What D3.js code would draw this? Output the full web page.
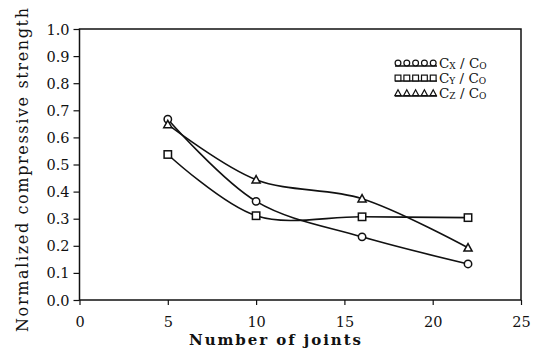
<!doctype html>
<html>
<head>
<style>
body { margin: 0; background: #fff; }
</style>
<script src="https://cdnjs.cloudflare.com/ajax/libs/d3/7.8.5/d3.min.js"></script>
</head>
<body>
<script>
var width = 537, height = 361;

// data
var joints = [5, 10, 16, 22];
var cx = [0.667, 0.364, 0.233, 0.133];
var cy = [0.537, 0.311, 0.307, 0.304];
var cz = [0.648, 0.444, 0.374, 0.193];
var xTicks = [0, 5, 10, 15, 20, 25];
var yTicks = [0, 0.1, 0.2, 0.3, 0.4, 0.5, 0.6, 0.7, 0.8, 0.9, 1.0];

var serif = "DejaVu Serif";
var ink = "#111";

var svg = d3.select("body").append("svg")
  .attr("width", width).attr("height", height);

var x = d3.scaleLinear().domain([0, 25]).range([79.5, 521]);
var y = d3.scaleLinear().domain([0, 1]).range([300, 29]);

// frame
svg.append("rect")
  .attr("x", x(0)).attr("y", y(1))
  .attr("width", x(25) - x(0)).attr("height", y(0) - y(1))
  .attr("fill", "none").attr("stroke", ink).attr("stroke-width", 1.5);

var xAxis = svg.append("g").attr("transform", "translate(0," + y(0) + ")")
  .call(d3.axisBottom(x).tickValues(xTicks).tickSize(5).tickFormat(d3.format("d")));
var yAxis = svg.append("g").attr("transform", "translate(" + x(0) + ",0)")
  .call(d3.axisLeft(y).tickValues(yTicks).tickSize(6).tickFormat(d3.format(".1f")));

[xAxis, yAxis].forEach(function(g) {
  g.select(".domain").remove();
  g.selectAll("line").attr("stroke", ink).attr("stroke-width", 1.2);
  g.selectAll("text")
    .attr("font-family", serif).attr("font-size", 14.5).attr("fill", ink);
});
xAxis.selectAll("text").attr("y", 27).attr("dy", 0);
yAxis.selectAll("text").attr("x", -10).attr("dy", "0.35em");

svg.append("text")
  .attr("x", 189).attr("y", 345)
  .attr("font-family", serif).attr("font-size", 15).attr("font-weight", 600)
  .attr("textLength", 172).attr("lengthAdjust", "spacing")
  .attr("fill", ink)
  .text("Number of joints");

svg.append("text")
  .attr("transform", "translate(28,332) rotate(-90)")
  .attr("font-family", serif).attr("font-size", 16)
  .attr("textLength", 324).attr("lengthAdjust", "spacing")
  .attr("fill", ink)
  .text("Normalized compressive strength");

var line = d3.line()
  .x(function(d) { return x(d[0]); })
  .y(function(d) { return y(d[1]); })
  .curve(d3.curveCatmullRom.alpha(0.5));

var series = [
  { vals: cx, mark: "circle", label: ["C", "X", "C", "O"] },
  { vals: cy, mark: "square", label: ["C", "Y", "C", "O"] },
  { vals: cz, mark: "triangle", label: ["C", "Z", "C", "O"] }
];

function marker(g, type, px, py, r, sw) {
  if (type === "circle") {
    g.append("circle").attr("cx", px).attr("cy", py).attr("r", r)
      .attr("fill", "#fff").attr("stroke", ink).attr("stroke-width", sw);
  } else if (type === "square") {
    g.append("rect").attr("x", px - r).attr("y", py - r)
      .attr("width", 2 * r).attr("height", 2 * r)
      .attr("fill", "#fff").attr("stroke", ink).attr("stroke-width", sw);
  } else {
    g.append("path")
      .attr("d", "M" + px + "," + (py - r * 1.1) + "L" + (px + r * 1.1) + "," + (py + r * 0.9) + "L" + (px - r * 1.1) + "," + (py + r * 0.9) + "Z")
      .attr("fill", "#fff").attr("stroke", ink).attr("stroke-width", sw);
  }
}

series.forEach(function(s) {
  var pts = joints.map(function(j, i) { return [j, s.vals[i]]; });
  svg.append("path").datum(pts)
    .attr("d", line).attr("fill", "none")
    .attr("stroke", ink).attr("stroke-width", 1.6);
});
series.forEach(function(s) {
  var g = svg.append("g");
  joints.forEach(function(j, i) { marker(g, s.mark, x(j), y(s.vals[i]), 3.7, 1.5); });
});

// legend
var legY = [63, 78, 93];
series.forEach(function(s, k) {
  var g = svg.append("g");
  var ly = legY[k];
  g.append("line").attr("x1", 395).attr("x2", 437)
    .attr("y1", ly + 3).attr("y2", ly + 3)
    .attr("stroke", ink).attr("stroke-width", 1.4);
  for (var m = 0; m < 5; m++) {
    marker(g, s.mark, 398 + m * 8.8, ly, 2.9, 1.2);
  }
  var t = g.append("text").attr("x", 439).attr("y", ly + 5)
    .attr("font-family", serif).attr("font-size", 13.5).attr("fill", ink);
  t.append("tspan").text(s.label[0]);
  t.append("tspan").attr("font-size", 9).attr("dy", 1).text(s.label[1]);
  t.append("tspan").attr("dy", -1).text(" / " + s.label[2]);
  t.append("tspan").attr("font-size", 9).attr("dy", 1).text(s.label[3]);
});
</script>
</body>
</html>
